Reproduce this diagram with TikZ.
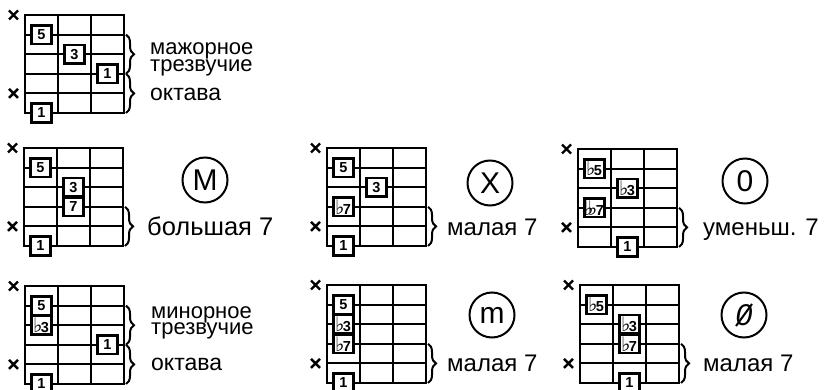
\documentclass[tikz,border=0pt]{standalone}
\usepackage{fontspec}
\setmainfont{Liberation Sans}
\newfontfamily\symfont{DejaVu Sans}
\usetikzlibrary{decorations.pathreplacing,calc}
\newcommand\fl{{\symfont\fontsize{20}{10}\selectfont\kern-1pt ♭\kern-1.5pt}}
\newcommand\chordgrid[4]{%
  \begin{scope}[shift={(#2,#3)}]
    \foreach \k in {1,...,4} \draw[gridl] (0,\k*19.6) -- (99,\k*19.6);
    \foreach \k in {1,2} \draw[gridl] (\k*33,0) -- (\k*33,98);
    \draw[gridl] (0,0) rectangle (99,98);
    \foreach \k in {0,78.4} \draw[xmk] (-16,\k-4.5) -- (-7,\k+4.5) (-16,\k+4.5) -- (-7,\k-4.5);
    \foreach \k/\yy in {1/0,2/19.6,3/39.2,4/58.8,5/78.4,6/98} \coordinate (#1b\k) at (101,\yy);
    #4
  \end{scope}}
\begin{document}
\begin{tikzpicture}[x=1pt,y=-1pt,
  gridl/.style={line width=2.1pt},
  xmk/.style={line width=2.4pt},
  nb/.style={draw,fill=white,line width=2.6pt,minimum width=20pt,minimum height=18.5pt,inner sep=0pt,font=\bfseries\fontsize{14.5}{14}\selectfont},
  brc/.style={decorate,decoration={brace,amplitude=8pt},line width=2pt},
  lbl/.style={anchor=base west,inner sep=0pt,font=\fontsize{24}{24}\selectfont},
  lbs/.style={anchor=base west,inner sep=0pt,font=\fontsize{22}{20}\selectfont},
  sym/.style={draw,circle,line width=2pt,minimum size=45pt,inner sep=0pt,font=\fontsize{30}{30}\selectfont}]
\useasboundingbox[fill=white] (0,0) rectangle (829,390);

% ---- A: major triad
\chordgrid{A}{25}{15}{
  \node[nb] (A5) at (16.5,19.6) {5};
  \node[nb] (A3) at (49.5,39.2) {3};
  \node[nb] (A1a) at (82.5,58.8) {1};
  \node[nb] (A1b) at (16.5,98) {1};
}
\draw[brc] (Ab2) -- (Ab4);
\draw[brc] (Ab4) -- (Ab6);
\node[lbs] (Al1) at (150,55) {мажорное};
\node[lbs] (Al2) at (150,71.5) {трезвучие};
\node[lbs,font=\fontsize{23}{23}\selectfont] (Al3) at (150,101) {октава};

% ---- B: major 7
\chordgrid{B}{24}{148}{
  \node[nb] (B5) at (16.5,19.6) {5};
  \node[nb] (B3) at (49.5,39.2) {3};
  \node[nb] (B7) at (49.5,58.8) {7};
  \node[nb] (B1) at (16.5,98) {1};
}
\draw[brc] (Bb4) -- (Bb6);
\node[lbl,font=\fontsize{25.5}{25}\selectfont] (Bl) at (147,235) {большая 7};
\node[sym] (cM) at (205,180) {M};

% ---- C: dominant 7
\chordgrid{C}{327}{148}{
  \node[nb] (C5) at (16.5,19.6) {5};
  \node[nb] (C3) at (49.5,39.2) {3};
  \node[nb] (C7) at (16.5,58.8) {\fl7};
  \node[nb] (C1) at (16.5,98) {1};
}
\draw[brc] (Cb4) -- (Cb6);
\node[lbl] (Cl) at (447,235) {малая 7};
\node[sym] (cX) at (490,183) {X};

% ---- D: diminished 7
\chordgrid{D}{578}{149}{
  \node[nb] (D5) at (16.5,19.6) {\fl5};
  \node[nb] (D3) at (49.5,39.2) {\fl3};
  \node[nb] (D7) at (16.5,58.8) {\fl\kern-3pt\fl7};
  \node[nb] (D1) at (49.5,98) {1};
}
\draw[brc] (Db4) -- (Db6);
\node[lbl] (Dl) at (703,235) {уменьш. 7};
\node[sym] (c0) at (745,181) {0};

% ---- E: minor triad
\chordgrid{E}{25}{286}{
  \node[nb] (E5) at (16.5,19.6) {5};
  \node[nb] (E3) at (16.5,39.2) {\fl3};
  \node[nb] (E1a) at (82.5,58.8) {1};
  \node[nb] (E1b) at (16.5,98) {1};
}
\draw[brc] (Eb2) -- (Eb4);
\draw[brc] (Eb4) -- (Eb6);
\node[lbs] (El1) at (151,318) {минорное};
\node[lbs] (El2) at (151,334.5) {трезвучие};
\node[lbs,font=\fontsize{23}{23}\selectfont] (El3) at (151,370) {октава};

% ---- F: minor 7
\chordgrid{F}{327}{285}{
  \node[nb] (F5) at (16.5,19.6) {5};
  \node[nb] (F3) at (16.5,39.2) {\fl3};
  \node[nb] (F7) at (16.5,58.8) {\fl7};
  \node[nb] (F1) at (16.5,98) {1};
}
\draw[brc] (Fb4) -- (Fb6);
\node[lbl] (Fl) at (447,371) {малая 7};
\node[sym] (cm) at (492,315) {m};

% ---- G: half-diminished 7
\chordgrid{G}{580}{285}{
  \node[nb] (G5) at (16.5,19.6) {\fl5};
  \node[nb] (G3) at (49.5,39.2) {\fl3};
  \node[nb] (G7) at (49.5,58.8) {\fl7};
  \node[nb] (G1) at (49.5,98) {1};
}
\draw[brc] (Gb4) -- (Gb6);
\node[lbl] (Gl) at (703,371) {малая 7};
\node[sym] (cO) at (744,315) {\itshape 0};
\draw[line width=2pt] ($(cO)+(-8,11)$) -- ($(cO)+(8,-11)$);
\end{tikzpicture}
\end{document}
